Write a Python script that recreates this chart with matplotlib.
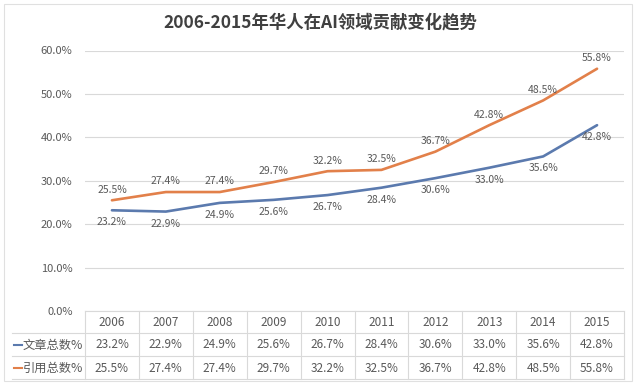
import matplotlib
matplotlib.use("Agg")
import matplotlib.pyplot as plt
from matplotlib import transforms
from matplotlib.lines import Line2D
from matplotlib.patches import Rectangle

plt.rcParams['font.family'] = ['Noto Sans CJK SC', 'DejaVu Sans']

# data
years = [2006, 2007, 2008, 2009, 2010, 2011, 2012, 2013, 2014, 2015]
articles = [23.2, 22.9, 24.9, 25.6, 26.7, 28.4, 30.6, 33.0, 35.6, 42.8]
citations = [25.5, 27.4, 27.4, 29.7, 32.2, 32.5, 36.7, 42.8, 48.5, 55.8]
series_names = ['文章总数%', '引用总数%']
title = '2006-2015年华人在AI领域贡献变化趋势'

blue = '#5B7AAE'
orange = '#E2804A'
txt = '#595959'
grid = '#d9d9d9'

W, H = 640, 386


def fx(px):
    return px / W


def fy(py):
    return 1 - py / H


fig = plt.figure(figsize=(6.4, 3.86), dpi=100)
fig.patch.set_facecolor('white')
# outer frame
fig.add_artist(Rectangle((fx(4), fy(381)), fx(632) - fx(4), fy(4) - fy(381),
                         transform=fig.transFigure, fill=False, ec='#e0e0e0', lw=0.8))

ax = fig.add_axes([fx(85), fy(311), fx(624) - fx(85), fy(50.5) - fy(311)])
x = list(range(len(years)))

ax.plot(x, articles, color=blue, lw=1.9, solid_capstyle='round')
ax.plot(x, citations, color=orange, lw=1.9, solid_capstyle='round')

for i, v in enumerate(citations):
    ax.annotate(f'{v:.1f}%', (i, v), xytext=(0, 4), textcoords='offset points',
                ha='center', va='bottom', fontsize=7.5, color=txt)
for i, v in enumerate(articles):
    ax.annotate(f'{v:.1f}%', (i, v), xytext=(0, -5), textcoords='offset points',
                ha='center', va='top', fontsize=7.5, color=txt)

ax.set_xlim(-0.5, len(years) - 0.5)
ax.set_ylim(0, 60)
ax.set_yticks(range(0, 61, 10))
ax.set_yticklabels([f'{t:.1f}%' for t in range(0, 61, 10)])
ax.yaxis.grid(True, color=grid, lw=0.8)
ax.set_axisbelow(True)
ax.set_xticks([])
ax.tick_params(axis='y', length=0, pad=9, labelsize=8, labelcolor=txt)
for s in ax.spines.values():
    s.set_visible(False)

# data table below the plot
tr = transforms.blended_transform_factory(ax.transData, fig.transFigure)
right = len(years) - 0.5
fig.add_artist(Line2D([-0.5, right], [fy(311), fy(311)], transform=tr, color=grid, lw=0.8))
for py in (333, 356, 379):
    fig.add_artist(Line2D([fx(12), fx(624)], [fy(py), fy(py)],
                          transform=fig.transFigure, color=grid, lw=0.8))
for i in range(len(years) + 1):
    fig.add_artist(Line2D([i - 0.5, i - 0.5], [fy(311), fy(379)], transform=tr,
                          color=grid, lw=0.8))

row_y = [345, 368]
for i, yr in enumerate(years):
    fig.text(i, fy(322), str(yr), transform=tr, ha='center', va='center',
             fontsize=8.5, color=txt)
    fig.text(i, fy(row_y[0]), f'{articles[i]:.1f}%', transform=tr, ha='center',
             va='center', fontsize=8.5, color=txt)
    fig.text(i, fy(row_y[1]), f'{citations[i]:.1f}%', transform=tr, ha='center',
             va='center', fontsize=8.5, color=txt)

for name, col, py in zip(series_names, [blue, orange], row_y):
    fig.add_artist(Line2D([fx(14), fx(22)], [fy(py), fy(py)],
                          transform=fig.transFigure, color=col, lw=1.5))
    fig.text(fx(23), fy(py), name, ha='left', va='center', fontsize=8.8, color=txt)

fig.text(0.5, fy(22), title, ha='center', va='center', fontsize=12.5,
         fontweight='bold', color='#404040')

fig.savefig('out.png', dpi=100)
